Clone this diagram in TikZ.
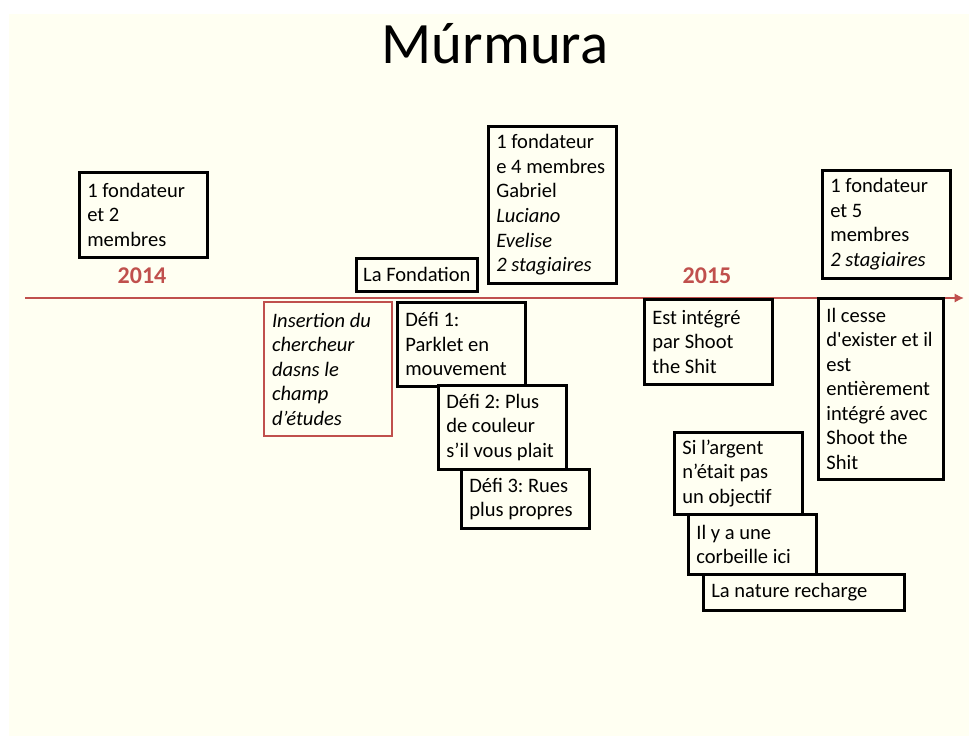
\documentclass[tikz,border=0pt]{standalone}
\usepackage{fontspec}
\setmainfont{Carlito}
\usepackage{tikz}
\usetikzlibrary{arrows.meta, positioning}
\frenchspacing
\definecolor{slideCream}{RGB}{255, 255, 242}
\definecolor{timeRed}{RGB}{192, 80, 77}
\tikzset{
  card/.style={
    rectangle, draw=black, line width=2pt, fill=slideCream,
    anchor=north west, align=flush left,
    text width=84pt, inner xsep=6pt, inner ysep=3pt,
    font=\fontsize{15.4}{18.4}\selectfont
  },
  redcard/.style={
    card, draw=timeRed, line width=1.6pt,
    font=\fontsize{15.4}{18.4}\selectfont\itshape
  },
  tag/.style={
    rectangle, draw=black, line width=2pt, fill=slideCream,
    anchor=north west, align=center, inner sep=0pt,
    font=\fontsize{15.4}{18.4}\selectfont
  },
  year/.style={
    anchor=base, text=timeRed,
    font=\fontsize{18}{20}\selectfont\bfseries
  },
  timeline/.style={
    -{Latex[length=7pt,width=7pt]}, line width=1.6pt, color=timeRed
  }
}

\begin{document}
\begin{tikzpicture}[x=0.75pt, y=-0.75pt]
  % slide background
  \useasboundingbox (0,0) rectangle (969,736);
  \fill[white] (0,0) rectangle (969,736);
  \fill[slideCream] (9,14) rectangle (969,736);

  % title
  \node[anchor=base, font=\fontsize{44}{50}\selectfont] (title) at (495,63) {Múrmura};

  % time axis
  \coordinate (tstart) at (25,298);
  \coordinate (tend) at (964,298);
  \draw[timeline] (tstart) -- (tend);
  \node[year] (y2014) at (142,283) {2014};
  \node[year] (y2015) at (707,283) {2015};

  % members (above the axis)
  \node[card, minimum height=63.75pt] (mem1) at (78,171)
    {1 fondateur\\et 2\\membres};
  \node[card, minimum height=117.75pt] (mem2) at (487,125)
    {1 fondateur\\e 4 membres\\Gabriel\\\textit{Luciano}\\\textit{Evelise}\\\textit{2 stagiaires}};
  \node[card, minimum height=81pt] (mem3) at (821,169)
    {1 fondateur\\et 5\\membres\\\textit{2 stagiaires}};
  \node[tag, minimum width=90.75pt, minimum height=24.75pt] (fond) at (355,257)
    {La Fondation};

  % events (below the axis)
  \node[redcard, minimum height=100.5pt] (insert) at (263,301)
    {Insertion du\\chercheur\\dasns le\\champ\\d’études};
  \node[card, minimum height=63pt] (defi1) at (396,301)
    {Défi 1:\\Parklet en\\mouvement};
  \node[card, minimum height=63pt] (defi2) at (437,384)
    {Défi 2: Plus\\de couleur\\s’il vous plait};
  \node[card, minimum height=44.25pt] (defi3) at (460,468)
    {Défi 3: Rues\\plus propres};
  \node[card, minimum height=63.75pt] (integ) at (643,298)
    {Est intégré\\par Shoot\\the Shit};
  \node[card, text width=82pt, minimum height=135.75pt] (cesse) at (817,297)
    {Il cesse\\d\textquotesingle exister et il\\est\\entièrement\\intégré avec\\Shoot the\\Shit};
  \node[card, minimum height=61.5pt] (argent) at (673,431)
    {Si l’argent\\n’était pas\\un objectif};
  \node[card, minimum height=45pt] (corb) at (687,513)
    {Il y a une\\corbeille ici};
  \node[card, text width=139pt, minimum height=27pt] (nature) at (702,573)
    {La nature recharge};
\end{tikzpicture}
\end{document}
